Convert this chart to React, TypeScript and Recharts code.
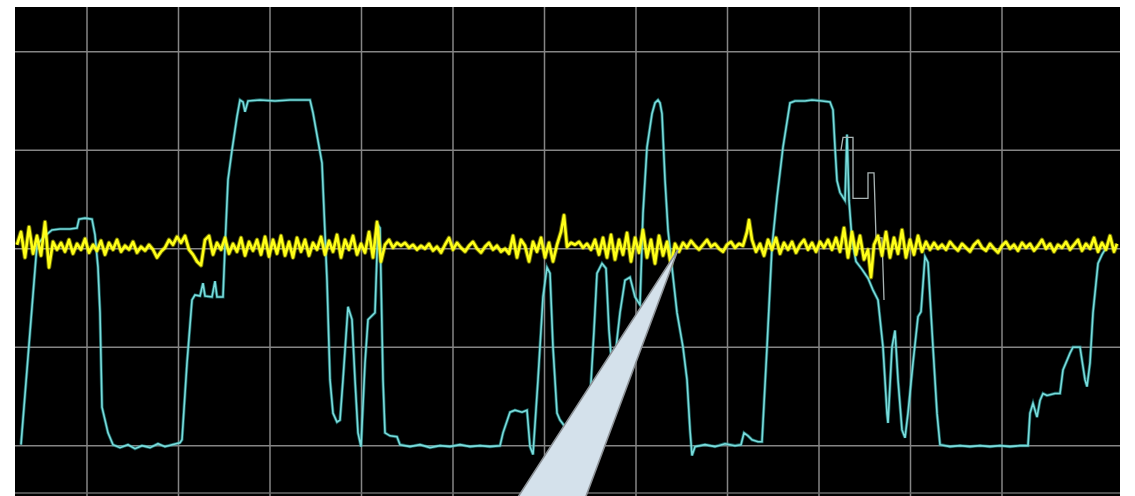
import React from 'react';
import { LineChart, Line, XAxis, YAxis, ReferenceLine, ReferenceArea, ReferenceDot } from 'recharts';

// time axis: sample index; vertical: mV (100 mV / div)
const T_DOMAIN: [number, number] = [0, 1105];
const V_DOMAIN: [number, number] = [-251.1, 245.4];
const T_GRID = [72, 163.5, 255, 346.5, 438, 529.5, 621, 712.5, 804, 895.5, 987];
const V_GRID = [-200, -100, 0, 100, 200];
const FRAME_BOTTOM = -248;
const CALLOUT_TIP: [number, number] = [663, -1];

const CYAN: [number, number][] = [
  [6, -199], [22, 4], [30, 13], [37, 19], [45, 20], [55, 20], [62, 21], [64, 30], [70, 31], [77, 30],
  [80, 14], [83, -19], [85, -65], [87, -161], [93, -187], [98, -199],
  [105, -202], [113, -199], [120, -203], [127, -200], [135, -202], [143, -198], [150, -201], [157, -199], [165, -197],
  [167, -194], [172, -116], [177, -52], [180, -47], [185, -48], [188, -35], [190, -48], [197, -49], [200, -33], [202, -49], [208, -49],
  [210, 2], [213, 70], [217, 100], [222, 134], [225, 151], [228, 149], [230, 139], [233, 150], [245, 151], [260, 150], [275, 151], [290, 151], [295, 151],
  [298, 138], [307, 87], [312, -32], [315, -133], [318, -167], [322, -176], [325, -174], [328, -133], [333, -59], [337, -72], [340, -133],
  [343, -187], [346, -201], [350, -116], [353, -72], [360, -65], [363, 24], [365, 21], [368, -133], [370, -187], [375, -190], [382, -191], [385, -199],
  [395, -201], [405, -199], [415, -202], [425, -200], [435, -201], [445, -199], [455, -201], [465, -200], [475, -201], [485, -200],
  [488, -187], [495, -166], [500, -164], [507, -166], [512, -164], [515, -201], [518, -209], [523, -133], [528, -49], [532, -19], [535, -25],
  [538, -100], [542, -167], [545, -174], [548, -178], [557, -194], [568, -192], [575, -153], [579, -83], [582, -25], [587, -15], [591, -20],
  [594, -83], [598, -133], [602, -92], [605, -65], [610, -32], [615, -29], [620, -49], [625, -57],
  [628, 36], [632, 103], [637, 137], [640, 148], [643, 151], [645, 148], [647, 137], [650, 70], [653, 19], [657, -19], [662, -65], [668, -100],
  [672, -133], [675, -184], [677, -210], [680, -201], [690, -199], [700, -201], [710, -198], [720, -200], [726, -199],
  [729, -187], [733, -190], [737, -194], [743, -196], [747, -196], [752, -100], [757, 2], [762, 52], [768, 103], [775, 148], [780, 150],
  [790, 150], [797, 151], [807, 150], [815, 149], [818, 141], [820, 103], [822, 69], [825, 57], [830, 49], [832, 116], [834, 49],
  [837, 9], [841, -13], [847, -21], [853, -30], [858, -42], [863, -52], [868, -100], [872, -167], [873, -177], [877, -100], [880, -83],
  [883, -133], [887, -184], [890, -192], [893, -167], [898, -116], [903, -69], [906, -64], [910, -8], [913, -14], [918, -100], [922, -167], [925, -199],
  [935, -201], [945, -200], [955, -201], [965, -200], [975, -201], [985, -200], [995, -201], [1005, -200], [1013, -200],
  [1015, -167], [1018, -157], [1022, -171], [1025, -154], [1028, -147], [1032, -149], [1040, -147], [1045, -147], [1048, -123], [1055, -106],
  [1058, -100], [1065, -100], [1070, -133], [1072, -140], [1075, -116], [1078, -65], [1083, -15], [1087, -6], [1090, -1],
];

const GRAY: [number, number][] = [
  [826, 100], [828, 113], [838, 113], [838, 51], [853, 51], [853, 77], [859, 77], [861, 11], [867, 11], [869, -52],
];

const YELLOW: [number, number][] = [
  [2, 4], [6, 17], [10, -9], [14, 22], [18, -5], [22, 13], [26, -7], [30, 27], [34, -19],
  [38, 7], [42, -1], [46, 6], [50, -3], [54, 9], [58, -5], [62, 5], [66, -1], [70, 10], [74, -4], [78, 4], [82, -2], [86, 8], [90, -6], [94, 6], [98, -1], [102, 9], [106, -3], [110, 3], [114, -1], [118, 7], [122, -4], [126, 2], [130, -2], [134, 4],
  [138, -1], [142, -9], [146, -3], [150, 1], [154, 9], [158, 4], [162, 12], [166, 6], [170, 13], [174, -1], [178, -6], [182, -13], [186, -17],
  [190, 9], [194, 13], [198, -6], [202, 6], [206, -1], [210, 11], [214, -5], [218, 5], [222, -3], [226, 11], [230, -7], [234, 7], [238, -2], [242, 9],
  [246, -6], [250, 12], [254, -8], [258, 9], [262, -5], [266, 13], [270, -7], [274, 7], [278, -9], [282, 11], [286, -3], [290, 9], [294, -7], [298, 6], [302, -1], [306, 12], [310, -6], [314, 8],
  [318, -3], [322, 14], [326, -9], [330, 9], [334, -1], [338, 13], [342, -6], [346, 5], [350, -4], [354, 17], [358, -9], [362, 27], [366, -13], [370, 4], [374, 9], [378, 1], [382, 6],
  [386, 3], [390, 6], [394, 1], [398, 4], [402, -1], [406, 3], [410, 0], [414, 5], [418, -2], [422, 2],
  [426, -4], [430, 4], [434, 11], [438, -1], [442, 6], [446, 1], [450, -3], [454, 3], [458, 7], [462, 0], [466, -4], [470, 2], [474, 6], [478, -1], [482, 3], [486, -3], [490, 0], [494, -5],
  [498, 13], [502, -9], [506, 9], [510, 3], [514, -13], [518, 7], [522, -3], [526, 11], [530, -9], [534, 6], [538, -13], [542, 4],
  [546, 17], [549, 34], [552, 2], [556, 6], [560, 4], [564, 7], [568, 1], [572, 5], [576, -1], [580, 9], [584, -6],
  [588, 11], [592, -9], [596, 14], [600, -11], [604, 9], [608, -6], [612, 16], [616, -13], [620, 11], [624, -4], [628, 19], [632, -9], [636, 9], [640, -15], [644, 13], [648, -7], [652, 7], [656, -17], [660, 5], [664, -3],
  [668, 6], [672, 1], [676, 8], [680, 3], [684, -1], [688, 4], [692, 9], [696, 2], [700, 5], [704, 0], [708, -3], [712, 4], [716, 7], [720, 1], [724, 5], [728, 3],
  [732, 17], [734, 29], [737, 9], [741, -3], [745, 5], [749, -7], [753, 9], [757, -1], [761, 11], [765, -5], [769, 6], [773, -1], [777, 7], [781, -4], [785, 4],
  [789, 9], [793, -1], [797, 6], [801, -3], [805, 7], [809, 1], [813, 9], [817, -1], [821, 11], [825, -3],
  [829, 21], [833, -9], [837, 17], [841, -6], [845, 13], [849, -11],
  [853, -1], [856, -29], [859, 4],
  [863, 13], [867, -7], [871, 17], [875, -9], [879, 11], [883, -5], [887, 19], [891, -9], [895, 9], [899, -6], [903, 13], [907, -3], [911, 7], [915, -1],
  [919, 6], [923, 0], [927, 4], [931, -1], [935, 7], [939, 2], [943, -2], [947, 5], [951, 1], [955, -3], [959, 4], [963, 8], [967, 1], [971, -2], [975, 5], [979, 0], [983, -4], [987, 3], [991, 7], [995, 0], [999, 4], [1003, -2], [1007, 6], [1011, 1], [1015, 5], [1019, -2], [1023, 3], [1027, 9], [1031, 0], [1035, 5], [1039, -3], [1043, 4], [1047, 1], [1051, 7], [1055, -1], [1059, 4], [1063, 9], [1067, -2], [1071, 5], [1075, 0], [1079, 11], [1083, -3], [1087, 6], [1091, -1], [1095, 13], [1099, -3], [1102, 5],
];

const toRows = (pts: [number, number][]) => pts.map(([s, v]) => ({ s, v }));
const cyanData = toRows(CYAN);
const grayData = toRows(GRAY);
const yellowData = toRows(YELLOW);

const Callout = (props: any) => {
  const { cx, cy } = props;
  if (cx == null || cy == null) return null;
  return (
    <polygon
      points={`${cx},${cy} ${cx - 163},${cy + 252} ${cx - 94},${cy + 252}`}
      fill="#d4e1eb"
      stroke="#8d9297"
      strokeWidth={1.6}
    />
  );
};

export default function App() {
  return (
    <div style={{ position: 'absolute', left: 0, top: 0, width: 1135, height: 496, background: '#fff' }}>
      <LineChart width={1135} height={496} margin={{ top: 7, right: 15, bottom: 0, left: 15 }}>
        <XAxis dataKey="s" type="number" domain={T_DOMAIN} allowDataOverflow hide />
        <YAxis dataKey="v" type="number" domain={V_DOMAIN} allowDataOverflow hide />
        <ReferenceArea x1={T_DOMAIN[0]} x2={T_DOMAIN[1]} y1={V_DOMAIN[0]} y2={V_DOMAIN[1]} fill="#000" fillOpacity={1} stroke="none" />
        {T_GRID.map((t) => (
          <ReferenceLine key={'t' + t} x={t} stroke="#858585" strokeWidth={1.5} />
        ))}
        {V_GRID.map((v) => (
          <ReferenceLine key={'v' + v} y={v} stroke="#858585" strokeWidth={1.5} />
        ))}
        <ReferenceLine y={FRAME_BOTTOM} stroke="#6a6a6a" strokeWidth={1.5} />
        <Line data={cyanData} dataKey="v" type="linear" stroke="#2fa9a9" strokeOpacity={0.55} strokeWidth={3.2} dot={false} isAnimationActive={false} />
        <Line data={cyanData} dataKey="v" type="linear" stroke="#7adcdc" strokeWidth={1.6} dot={false} isAnimationActive={false} />
        <Line data={grayData} dataKey="v" type="linear" stroke="#a9b4b4" strokeWidth={1.3} dot={false} isAnimationActive={false} />
        <Line data={yellowData} dataKey="v" type="linear" stroke="#e6e600" strokeOpacity={0.45} strokeWidth={4.5} strokeLinejoin="round" dot={false} isAnimationActive={false} />
        <Line data={yellowData} dataKey="v" type="linear" stroke="#ffff1a" strokeWidth={2.6} strokeLinejoin="round" dot={false} isAnimationActive={false} />
        <ReferenceDot x={CALLOUT_TIP[0]} y={CALLOUT_TIP[1]} r={0} shape={Callout} />
      </LineChart>
    </div>
  );
}
